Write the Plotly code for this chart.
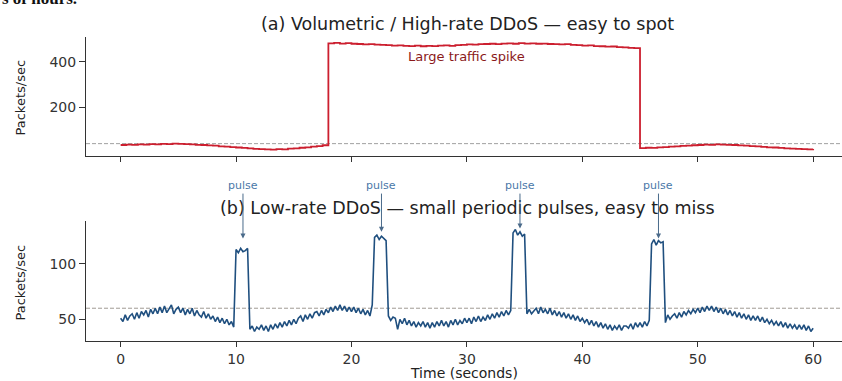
import plotly.graph_objects as go

# ---------------- data ----------------
STEP_A = 0.5
volumetric_pps = [
    34, 36, 35, 37, 36, 38, 37, 39, 38, 40,
    39, 38, 37, 35, 34, 32, 31, 28, 27, 25,
    23, 21, 19, 17, 16, 15, 14, 16, 15, 18,
    19, 22, 24, 27, 29, 33,
    481, 483, 480, 482, 479, 478, 476, 477, 475, 474,
    473, 471, 472, 470, 469, 471, 468, 470, 469, 471,
    472, 470, 473, 474, 476, 475, 477, 478, 479, 477,
    480, 481, 479, 482, 480, 481, 479, 480, 478, 477,
    476, 477, 474, 473, 471, 472, 469, 468, 466, 467,
    464, 463, 461, 460,
    20, 22, 21, 24, 25, 27, 28, 30, 31, 33,
    34, 36, 35, 37, 36, 35, 34, 32, 31, 29,
    28, 26, 24, 23, 21, 19, 18, 17, 16, 15,
    16,
]
time_a = [round(i * STEP_A, 2) for i in range(len(volumetric_pps))]

STEP_B = 0.2
lowrate_pps = [
    51, 48, 54, 49, 53,   55, 50, 56, 51, 57,   54, 58, 52, 59, 55,
    60, 55, 61, 56, 62,   56, 60, 63, 55, 59,   61, 56, 60, 54, 59,
    55, 60, 53, 58, 54,   52, 57, 51, 55, 50,   53, 48, 52, 47, 51,
    46, 50, 45, 48, 43,
    113, 110, 114, 111, 112,  114, 41, 44, 39, 43,
    41, 45, 40, 44, 39,   45, 41, 46, 42, 47,   43, 48, 44, 49, 45,
    50, 46, 51, 53, 48,   54, 50, 55, 51, 56,   57, 53, 58, 54, 59,
    56, 61, 57, 62, 58,   63, 58, 62, 57, 61,   57, 61, 56, 60, 55,
    59, 54, 58, 53, 63,
    124, 126, 122, 125, 123,  121, 53, 49, 52, 51,
    41, 50, 46, 51, 45,   49, 44, 48, 43, 47,   44, 48, 43, 47, 42,
    47, 43, 48, 44, 49,   44, 48, 43, 49, 45,   50, 45, 49, 46, 51,
    47, 51, 46, 52, 48,   53, 48, 52, 49, 54,   50, 55, 51, 56, 52,
    57, 53, 58, 54, 58,
    128, 131, 126, 129, 125,  127, 55, 59, 55, 58,
    60, 55, 61, 56, 59,   55, 60, 54, 58, 53,   57, 52, 56, 51, 55,
    50, 54, 49, 53, 48,   51, 47, 50, 45, 49,   44, 48, 43, 47, 42,
    46, 41, 45, 40, 44,   41, 45, 40, 44, 44,   42, 46, 41, 47, 43,
    47, 43, 48, 44, 49,
    118, 122, 117, 121, 119,  120, 47, 54, 50, 53,
    55, 51, 56, 52, 57,   54, 58, 55, 59, 56,   60, 56, 61, 57, 62,
    58, 62, 57, 61, 56,   60, 55, 59, 54, 58,   53, 57, 52, 56, 51,
    55, 50, 54, 49, 53,   49, 53, 48, 52, 47,   50, 46, 49, 45, 48,
    44, 48, 43, 47, 42,   46, 42, 45, 41, 45,   41, 45, 40, 44, 39,
    42,
]
time_b = [round(i * STEP_B, 2) for i in range(len(lowrate_pps))]

threshold_a = 40
threshold_b = 60

pulse_times = [10.6, 22.6, 34.6, 46.6]
pulse_tips = [123, 129, 132, 123]
pulse_label_level = 170.7

x_ticks = [0, 10, 20, 30, 40, 50, 60]
y_ticks_a = [200, 400]
y_ticks_b = [50, 100]

title_a = "(a) Volumetric / High-rate DDoS — easy to spot"
title_b = "(b) Low-rate DDoS — small periodic pulses, easy to miss"

# ---------------- figure ----------------
FONT = "DejaVu Sans"
AX = "#333333"
W, H = 842, 381

fig = go.Figure()
fig.add_trace(go.Scatter(x=time_a, y=volumetric_pps, mode="lines",
                         line=dict(color="#cc1f2f", width=1.8, shape="hv"),
                         xaxis="x", yaxis="y", showlegend=False))
fig.add_trace(go.Scatter(x=time_b, y=lowrate_pps, mode="lines",
                         line=dict(color="#1f4f7f", width=1.6),
                         xaxis="x2", yaxis="y2", showlegend=False))

# thresholds
fig.add_shape(type="line", xref="x domain", yref="y", x0=0, x1=1,
              y0=threshold_a, y1=threshold_a,
              line=dict(color="#a0a0a0", width=1, dash="4px,2px"), layer="below")
fig.add_shape(type="line", xref="x2 domain", yref="y2", x0=0, x1=1,
              y0=threshold_b, y1=threshold_b,
              line=dict(color="#a09a94", width=1, dash="4px,2px"), layer="below")

common = dict(showline=True, linecolor=AX, linewidth=1, ticks="outside",
              tickcolor=AX, tickwidth=1, showgrid=False, zeroline=False,
              tickfont=dict(family=FONT, size=14, color="#333333"))

fig.update_layout(
    width=W, height=H,
    margin=dict(l=86, r=0, t=0, b=0, autoexpand=False),
    paper_bgcolor="white", plot_bgcolor="white",
    font=dict(family=FONT),
    xaxis=dict(domain=[0, 1], range=[-3, 62.5], anchor="y",
               tickvals=x_ticks, showticklabels=False, ticklen=5, **common),
    yaxis=dict(domain=[1 - 155.7 / H, 1 - 36.7 / H], range=[-13, 510],
               anchor="x", tickvals=y_ticks_a, ticklen=6, **common),
    xaxis2=dict(domain=[0, 1], range=[-3, 62.5], anchor="y2", matches="x",
                tickvals=x_ticks, ticklen=5, **common),
    yaxis2=dict(domain=[1 - 340.7 / H, 1 - 220.7 / H], range=[30.7, 139],
                anchor="x2", tickvals=y_ticks_b, ticklen=6, **common),
)

ann = []
ann.append(dict(text=title_a, xref="paper", yref="paper", x=(467 - 86) / (W - 86),
                y=1 - 24 / H, showarrow=False, xanchor="center", yanchor="middle",
                font=dict(family=FONT, size=17.5, color="#222222")))
ann.append(dict(text=title_b, xref="paper", yref="paper", x=(467 - 86) / (W - 86),
                y=1 - 207.7 / H, showarrow=False, xanchor="center", yanchor="middle",
                font=dict(family=FONT, size=17.5, color="#222222")))
ann.append(dict(text="Large traffic spike", xref="x", yref="y", x=30, y=425,
                showarrow=False, xanchor="center", yanchor="middle",
                font=dict(family=FONT, size=13, color="#8b1a1a")))
for t, tip in zip(pulse_times, pulse_tips):
    ann.append(dict(text="pulse", xref="x2", yref="y2", x=t, y=tip,
                    axref="x2", ayref="y2", ax=t, ay=pulse_label_level,
                    showarrow=True, arrowhead=2, arrowsize=1, arrowwidth=1,
                    arrowcolor="#4a6a8a",
                    font=dict(family=FONT, size=11, color="#4a78a8")))
ann.append(dict(text="Packets/sec", xref="paper", yref="paper", x=-66 / (W - 86),
                y=1 - 97.5 / H, textangle=-90, showarrow=False,
                xanchor="center", yanchor="middle",
                font=dict(family=FONT, size=13, color="#222222")))
ann.append(dict(text="Packets/sec", xref="paper", yref="paper", x=-66 / (W - 86),
                y=1 - 282.5 / H, textangle=-90, showarrow=False,
                xanchor="center", yanchor="middle",
                font=dict(family=FONT, size=13, color="#222222")))
ann.append(dict(text="Time (seconds)", xref="paper", yref="paper",
                x=(464 - 86) / (W - 86), y=1 - 373 / H, showarrow=False,
                xanchor="center", yanchor="middle",
                font=dict(family=FONT, size=14, color="#222222")))
ann.append(dict(text="<b>s of hours.</b>", xref="paper", yref="paper",
                x=-86 / (W - 86), y=1 - 10 / H, showarrow=False,
                xanchor="left", yanchor="bottom",
                font=dict(family="Liberation Serif", size=17, color="#111111")))
fig.update_layout(annotations=ann)

fig.write_html("out.html",
               config={"displayModeBar": False},
               post_script="document.body.style.margin='0';"
                           "document.body.style.overflow='hidden';")
